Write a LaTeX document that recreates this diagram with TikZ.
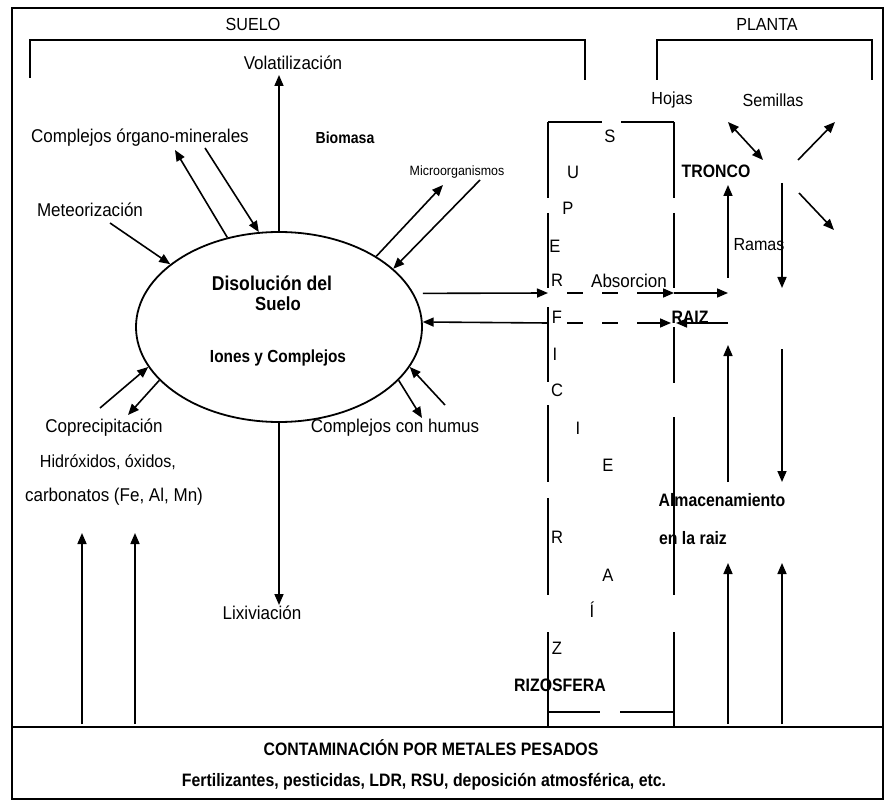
\documentclass[tikz,border=0pt]{standalone}
\usepackage{fontspec}
\setmainfont{Liberation Sans}[FakeStretch=0.92]
\newfontfamily\bnar[FakeStretch=0.88]{Liberation Sans}
\usetikzlibrary{arrows.meta,shapes.geometric}
\begin{document}
\begin{tikzpicture}[x=1pt,y=-1pt,
  lbl/.style={font=\fontsize{18.5}{21}\selectfont, inner sep=0pt},
  mlbl/.style={font=\fontsize{17.5}{20}\selectfont, inner sep=0pt},
  slbl/.style={font=\fontsize{13.5}{16}\selectfont, inner sep=0pt},
  blbl/.style={font=\bnar\bfseries\fontsize{18}{21}\selectfont, inner sep=0pt},
  ltr/.style={font=\fontsize{18}{21}\selectfont, inner sep=0pt},
  arr/.style={-{Triangle[length=11pt,width=9pt]}, line width=1.6pt},
  darr/.style={{Triangle[length=11pt,width=9pt]}-{Triangle[length=11pt,width=9pt]}, line width=1.6pt},
  frameline/.style={line width=1.4pt},
  boxline/.style={line width=1.5pt},
  dashline/.style={line width=1.5pt, dash pattern=on 16pt off 19pt}]
\useasboundingbox (0,0) rectangle (884,805);
% outer frame
\draw[frameline] (12,8) rectangle (883,799);
\draw[frameline] (12,727) -- (883,727);
% brackets
\draw[frameline] (30,78) -- (30,40) -- (585,40) -- (585,80);
\draw[frameline] (657,80) -- (657,40) -- (872,40) -- (872,80);
% titles
\node[mlbl] (suelo) at (253,24) {SUELO};
\node[mlbl] (planta) at (767,24) {PLANTA};
% ellipse
\node[draw, ellipse, line width=1.8pt, minimum width=286pt, minimum height=190pt, inner sep=0pt] (ell) at (279,327) {};
\node[blbl, font=\bnar\bfseries\fontsize{20}{23}\selectfont] (dis) at (272,283) {Disolución del};
\node[blbl, font=\bnar\bfseries\fontsize{19}{22}\selectfont] (sue) at (278,304) {Suelo};
\node[blbl, font=\bnar\bfseries\fontsize{17.5}{20}\selectfont] (ion) at (278,358) {Iones y Complejos};
% left labels
\node[lbl] (vol) at (293,63) {Volatilización};
\node[lbl] (com) at (140,138) {Complejos órgano-minerales};
\node[blbl, font=\bnar\bfseries\fontsize{16}{19}\selectfont] (bio) at (345,138) {Biomasa};
\node[slbl] (mic) at (457,172) {Microorganismos};
\node[lbl] (met) at (90,210) {Meteorización};
\node[lbl] (cop) at (104,428) {Coprecipitación};
\node[mlbl] (hid) at (108,462) {Hidróxidos, óxidos,};
\node[lbl] (car) at (114,497) {carbonatos (Fe, Al, Mn)};
\node[lbl] (hum) at (395,428) {Complejos con humus};
\node[lbl] (lix) at (262,613) {Lixiviación};
% bottom
\node[blbl] (cont) at (431,748) {CONTAMINACIÓN POR METALES PESADOS};
\node[blbl] (fert) at (424,782) {Fertilizantes, pesticidas, LDR, RSU, deposición atmosférica, etc.};
% plant labels
\node[mlbl] (hoj) at (672,100) {Hojas};
\node[mlbl] (sem) at (773,100) {Semillas};
\node[blbl] (tro) at (716,171) {TRONCO};
\node[mlbl] (ram) at (759,245) {Ramas};
\node[lbl] (abs) at (629,281) {Absorcion};
\node[blbl] (raiz) at (690,317) {RAIZ};
\node[blbl] (alm) at (722,500) {Almacenamiento};
\node[blbl] (enl) at (693,538) {en la raiz};
\node[blbl] (rizo) at (560,685) {RIZOSFERA};
% SUPERFICIE RAIZ letters
\node[ltr] (l1) at (610,136) {S};
\node[ltr] (l2) at (573,172) {U};
\node[ltr] (l3) at (568,208) {P};
\node[ltr] (l4) at (555,246) {E};
\node[ltr] (l5) at (557,280) {R};
\node[ltr] (l6) at (557,317) {F};
\node[ltr] (l7) at (555,354) {I};
\node[ltr] (l8) at (557,390) {C};
\node[ltr] (l9) at (578,428) {I};
\node[ltr] (l10) at (608,465) {E};
\node[ltr] (l11) at (557,537) {R};
\node[ltr] (l12) at (608,575) {A};
\node[ltr] (l13) at (592,610) {Í};
\node[ltr] (l14) at (557,648) {Z};
% superficie box (broken lines)
\draw[boxline] (548,122) -- (602,122);
\draw[boxline] (621,122) -- (674,122);
\draw[boxline] (548,712) -- (600,712);
\draw[boxline] (620,712) -- (674,712);
\foreach \a/\b in {122/198, 213/288, 307/382, 405/482, 498/595, 632/727}
  \draw[boxline] (548,\a) -- (548,\b);
\foreach \a/\b in {122/198, 213/288, 327/383, 417/595, 632/727}
  \draw[boxline] (674,\a) -- (674,\b);
% coordinates
\coordinate (volt) at (279,75);
\coordinate (comt) at (175,150);
\coordinate (coms) at (205,148);
\coordinate (mets) at (110,223);
\coordinate (mict) at (443,185);
\coordinate (mics) at (480,180);
\coordinate (cops) at (100,408);
\coordinate (copt) at (128,415);
\coordinate (humt) at (422,418);
\coordinate (hums) at (445,405);
\coordinate (lixt) at (279,605);
\coordinate (u1s) at (82,724);  \coordinate (u1t) at (82,533);
\coordinate (u2s) at (135,724); \coordinate (u2t) at (135,533);
\coordinate (a1) at (548,293);
\coordinate (a2) at (567,293);
\coordinate (a3) at (637,293);
\coordinate (a4) at (674,293);
\coordinate (a5) at (728,293);
\coordinate (b1) at (548,323);
\coordinate (b2) at (567,323);
\coordinate (b3) at (637,323);
\coordinate (b4) at (671,323);
\coordinate (b5) at (676,323);
\coordinate (b6) at (728,323);
\coordinate (t1) at (728,278); \coordinate (t2) at (728,185);
\coordinate (t3) at (782,183); \coordinate (t4) at (782,288);
\coordinate (t5) at (728,482); \coordinate (t6) at (728,345);
\coordinate (t7) at (782,349); \coordinate (t8) at (782,482);
\coordinate (t9) at (728,724); \coordinate (t10) at (728,563);
\coordinate (t11) at (782,724); \coordinate (t12) at (782,563);
\coordinate (h1) at (728,122); \coordinate (h2) at (763,160);
\coordinate (s1) at (798,160); \coordinate (s2) at (835,122);
\coordinate (r1) at (799,193); \coordinate (r2) at (834,230);
% soil arrows
\draw[arr] (ell.north) -- (volt);
\draw[arr] (ell.120) -- (comt);
\draw[arr] (coms) -- (ell.102);
\draw[arr] (mets) -- (ell.150);
\draw[arr] (ell.36) -- (mict);
\draw[arr] (mics) -- (ell.27);
\draw[arr] (cops) -- (ell.197);
\draw[arr] (ell.204) -- (copt);
\draw[arr] (ell.-24) -- (humt);
\draw[arr] (hums) -- (ell.-17);
\draw[arr] (ell.south) -- (lixt);
\draw[arr] (u1s) -- (u1t);
\draw[arr] (u2s) -- (u2t);
% absorption rows
\draw[arr, shorten <=9pt] (ell.14) -- (a1);
\draw[dashline] (a2) -- (a3);
\draw[arr] (a3) -- (a4);
\draw[arr] (a4) -- (a5);
\draw[arr] (b1) -- (ell.2);
\draw[dashline] (b2) -- (b3);
\draw[arr] (b3) -- (b4);
\draw[arr] (b6) -- (b5);
% plant arrows
\draw[arr] (t1) -- (t2);
\draw[arr] (t3) -- (t4);
\draw[arr] (t5) -- (t6);
\draw[arr] (t7) -- (t8);
\draw[arr] (t9) -- (t10);
\draw[arr] (t11) -- (t12);
\draw[darr] (h1) -- (h2);
\draw[arr] (s1) -- (s2);
\draw[arr] (r1) -- (r2);
\end{tikzpicture}
\end{document}
